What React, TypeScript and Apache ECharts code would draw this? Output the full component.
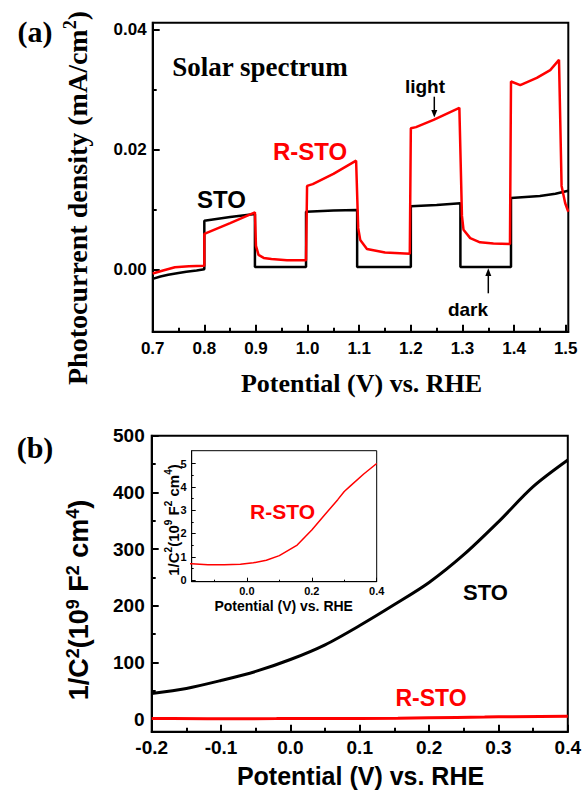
import React, { useEffect, useRef } from 'react';
import * as echarts from 'echarts';

const SERIF = "'Liberation Serif', 'Times New Roman', serif";
const SANS = "'Liberation Sans', Arial, sans-serif";
const RED = '#ff0000';

// (a) Photocurrent density (mA/cm2) vs potential (V vs RHE)
const photoSTO: number[][] = [
  [0.7, -0.0015], [0.715, -0.0011], [0.73, -0.0008], [0.75, -0.0005], [0.765, -0.0003], [0.785, -0.0001], [0.8, 0.0001],
  [0.8, 0.0082], [0.85, 0.0088], [0.898, 0.0093],
  [0.898, 0.0005], [0.997, 0.0005],
  [0.997, 0.0097], [1.05, 0.0099], [1.096, 0.0100],
  [1.096, 0.0005], [1.2, 0.0005],
  [1.2, 0.0106], [1.25, 0.0108], [1.296, 0.0111],
  [1.296, 0.0005], [1.394, 0.0005],
  [1.394, 0.0120], [1.45, 0.0123], [1.48, 0.0127], [1.505, 0.0132],
];
const photoRSTO: number[][] = [
  [0.7, -0.0006], [0.72, -0.0001], [0.743, 0.00045], [0.77, 0.0006], [0.8, 0.0007],
  [0.8, 0.0060], [0.85, 0.0078], [0.898, 0.0096],
  [0.9, 0.0040], [0.905, 0.0025], [0.915, 0.0020], [0.93, 0.0018], [0.96, 0.0016], [0.997, 0.0016],
  [0.999, 0.0140], [1.01, 0.0143], [1.05, 0.0160], [1.094, 0.0182],
  [1.098, 0.0070], [1.102, 0.0050], [1.115, 0.0035], [1.15, 0.0029], [1.198, 0.0027],
  [1.2, 0.0236], [1.21, 0.0238], [1.244, 0.0250], [1.294, 0.0270],
  [1.299, 0.0090], [1.302, 0.0067], [1.315, 0.0053], [1.334, 0.0046], [1.36, 0.0044], [1.392, 0.0043],
  [1.394, 0.0314], [1.412, 0.0308], [1.444, 0.0320], [1.47, 0.0333], [1.487, 0.0350],
  [1.492, 0.0140], [1.499, 0.0111], [1.505, 0.0097],
];

// (b) Mott-Schottky 1/C2 (1e9 F-2 cm4) vs potential
const mottSTO: number[][] = [
  [-0.2, 45], [-0.15, 54], [-0.1, 68], [-0.05, 84], [0.0, 105], [0.05, 131], [0.1, 165],
  [0.15, 202], [0.2, 241], [0.25, 290], [0.3, 348], [0.35, 410], [0.4, 457],
];
const mottRSTO: number[][] = [
  [-0.2, 0.72], [-0.17, 0.7], [-0.12, 0.66], [-0.07, 0.66], [-0.02, 0.68], [0.02, 0.74], [0.06, 0.85],
  [0.1, 1.05], [0.155, 1.5], [0.2, 2.15], [0.24, 2.8], [0.28, 3.45], [0.3, 3.8], [0.32, 4.05],
  [0.36, 4.55], [0.4, 5.0],
];

const topXTicks = [0.7, 0.8, 0.9, 1.0, 1.1, 1.2, 1.3, 1.4, 1.5];
const topXMinor = [0.75, 0.85, 0.95, 1.05, 1.15, 1.25, 1.35, 1.45];
const topYTicks = [0, 0.02, 0.04];
const topYMinor = [0.01, 0.03];
const botXTicks = [-0.2, -0.1, 0.0, 0.1, 0.2, 0.3, 0.4];
const botXMinor = [-0.15, -0.05, 0.05, 0.15, 0.25, 0.35];
const botYTicks = [0, 100, 200, 300, 400, 500];
const botYMinor = [50, 150, 250, 350, 450];
const insXTicks = [0.0, 0.2, 0.4];
const insXMinor = [-0.1, 0.1, 0.3];
const insYTicks = [0, 1, 2, 3, 4, 5];
const insYMinor = [0.5, 1.5, 2.5, 3.5, 4.5];

function majorAxis(kind: 'x' | 'y', gridIndex: number, min: number, max: number, ticks: number[],
  fmt: (v: number) => string, fontSize: number, margin: number, tickLen: number, width: number) {
  return {
    type: 'value', gridIndex, min, max,
    position: kind === 'x' ? 'bottom' : 'left',
    axisLine: { show: true, onZero: false, lineStyle: { color: '#000', width } },
    axisTick: { show: true, inside: true, length: tickLen, customValues: ticks, lineStyle: { color: '#000', width } },
    axisLabel: {
      show: true, customValues: ticks, formatter: (v: number) => fmt(v), margin,
      color: '#000', fontFamily: SANS, fontWeight: 'bold', fontSize,
    },
    splitLine: { show: false }, minorTick: { show: false },
  };
}
function minorAxis(kind: 'x' | 'y', gridIndex: number, min: number, max: number, ticks: number[], tickLen: number, width: number) {
  return {
    type: 'value', gridIndex, min, max,
    position: kind === 'x' ? 'bottom' : 'left',
    axisLine: { show: false, onZero: false },
    axisTick: { show: true, inside: true, length: tickLen, customValues: ticks, lineStyle: { color: '#000', width } },
    axisLabel: { show: false },
    splitLine: { show: false },
  };
}

function txt(x: number, y: number, text: string, fontFamily: string, fontSize: number, fill = '#000',
  extra: any = {}, rotation = 0) {
  return {
    type: 'text', x, y, rotation, z: 100,
    style: {
      text, fontFamily, fontSize, fontWeight: 'bold', fill,
      align: 'center', verticalAlign: 'middle', textAlign: 'center', textVerticalAlign: 'middle',
      ...extra,
    },
  };
}

export default function App() {
  const ref = useRef<HTMLDivElement>(null);
  useEffect(() => {
    if (!ref.current) return;
    const chart = echarts.init(ref.current, undefined, { renderer: 'svg' });
    const f1 = (v: number) => v.toFixed(1);
    const f2 = (v: number) => v.toFixed(2);
    const f0 = (v: number) => String(Math.round(v));
    const supRich = (base: number, sup: number, family: string) => ({
      b: { fontFamily: family, fontSize: base, fontWeight: 'bold', fill: '#000', lineHeight: base + 4 },
      s: { fontFamily: family, fontSize: sup, fontWeight: 'bold', fill: '#000', lineHeight: sup + 2, verticalAlign: 'top' },
    });
    const option: any = {
      animation: false,
      backgroundColor: '#fff',
      grid: [
        { left: 152.7, top: 22.7, width: 415.6, height: 309, show: true, borderColor: '#000', borderWidth: 2 },
        { left: 151.7, top: 435.7, width: 416.6, height: 296, show: true, borderColor: '#000', borderWidth: 2 },
        { left: 191.7, top: 450.7, width: 185, height: 131, show: true, borderColor: '#000', borderWidth: 1, backgroundColor: '#fff' },
      ],
      xAxis: [
        majorAxis('x', 0, 0.7, 1.505, topXTicks, f1, 17, 8, 7, 2),
        minorAxis('x', 0, 0.7, 1.505, topXMinor, 4, 2),
        majorAxis('x', 1, -0.2, 0.4, botXTicks, f1, 19, 6, 7, 2),
        minorAxis('x', 1, -0.2, 0.4, botXMinor, 4, 2),
        majorAxis('x', 2, -0.17, 0.4, insXTicks, f1, 11, 4, 4, 1),
        minorAxis('x', 2, -0.17, 0.4, insXMinor, 2, 1),
      ],
      yAxis: [
        majorAxis('y', 0, -0.0103, 0.0412, topYTicks, f2, 17, 6, 7, 2),
        minorAxis('y', 0, -0.0103, 0.0412, topYMinor, 4, 2),
        majorAxis('y', 1, -22.4, 500, botYTicks, f0, 19, 7, 7, 2),
        minorAxis('y', 1, -22.4, 500, botYMinor, 4, 2),
        majorAxis('y', 2, -0.07, 5.55, insYTicks, f0, 11, 5, 4, 1),
        minorAxis('y', 2, -0.07, 5.55, insYMinor, 2, 1),
      ],
      series: [
        { type: 'line', xAxisIndex: 0, yAxisIndex: 0, data: photoSTO, symbol: 'none', lineStyle: { color: '#000', width: 2.5 } },
        { type: 'line', xAxisIndex: 0, yAxisIndex: 0, data: photoRSTO, symbol: 'none', lineStyle: { color: RED, width: 2.5 } },
        { type: 'line', xAxisIndex: 2, yAxisIndex: 2, data: mottSTO, smooth: 0.3, symbol: 'none', lineStyle: { color: '#000', width: 3 } },
        { type: 'line', xAxisIndex: 2, yAxisIndex: 2, data: mottRSTO, symbol: 'none', lineStyle: { color: RED, width: 3 } },
        { type: 'line', xAxisIndex: 4, yAxisIndex: 4, data: mottRSTO, symbol: 'none', lineStyle: { color: RED, width: 1.5 }, z: 5 },
      ],
      graphic: [
        txt(35, 31, '(a)', SERIF, 30),
        txt(77, 198, '{b|Photocurrent density (mA/cm}{s|2}{b|)}', SERIF, 28, '#000', { rich: supRich(28, 18, SERIF) }, Math.PI / 2),
        txt(361.5, 383, 'Potential (V) vs. RHE', SERIF, 26),
        txt(260, 67, 'Solar spectrum', SERIF, 27),
        txt(310, 151, 'R-STO', SANS, 24, RED),
        txt(221.5, 199.5, 'STO', SANS, 24),
        txt(425, 86, 'light', SANS, 19),
        txt(468, 309, 'dark', SANS, 19),
        { type: 'line', z: 100, shape: { x1: 434.3, y1: 96.7, x2: 434.3, y2: 112 }, style: { stroke: '#000', lineWidth: 1.5 } },
        { type: 'polygon', z: 100, shape: { points: [[431.3, 110], [437.3, 110], [434.3, 117.5]] }, style: { fill: '#000' } },
        { type: 'line', z: 100, shape: { x1: 488.3, y1: 293.3, x2: 488.3, y2: 274 }, style: { stroke: '#000', lineWidth: 1.5 } },
        { type: 'polygon', z: 100, shape: { points: [[485.3, 276], [491.3, 276], [488.3, 268.3]] }, style: { fill: '#000' } },

        txt(35, 447, '(b)', SERIF, 30),
        txt(79, 600, '{b|1/C}{s|2}{b|(10}{s|9}{b| F}{s|2}{b| cm}{s|4}{b|)}', SANS, 27, '#000', { rich: supRich(27, 18, SANS) }, Math.PI / 2),
        txt(360.5, 776, 'Potential (V) vs. RHE', SANS, 25),
        txt(485.5, 592, 'STO', SANS, 22),
        txt(431, 698, 'R-STO', SANS, 23, RED),
        txt(282.5, 511.5, 'R-STO', SANS, 21, RED),
        txt(173, 520, '{b|1/C}{s|2}{b|(10}{s|9}{b| F}{s|2}{b| cm}{s|4}{b|)}', SANS, 15, '#000', { rich: supRich(15, 10, SANS) }, Math.PI / 2),
        txt(283.7, 606, 'Potential (V) vs. RHE', SANS, 14),
      ],
    };
    chart.setOption(option);
    return () => chart.dispose();
  }, []);
  return <div ref={ref} style={{ position: 'fixed', left: 0, top: 0, width: 584, height: 791 }} />;
}
